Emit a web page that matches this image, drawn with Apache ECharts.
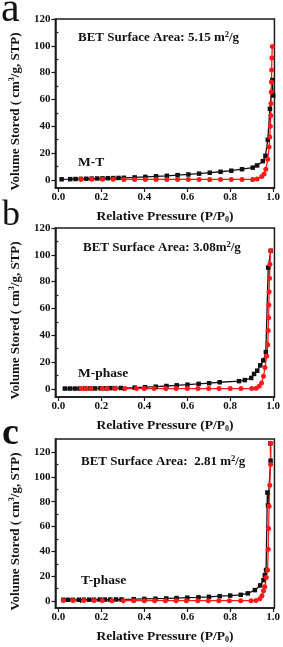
<!DOCTYPE html>
<html><head><meta charset="utf-8">
<script src="https://cdn.jsdelivr.net/npm/echarts@6/dist/echarts.min.js"></script>
<style>html,body{margin:0;padding:0;background:#fff}#c{width:283px;height:647px}</style>
</head><body><div id="c"></div>
<script>
// ---- data (P/P0, volume) ----
const aBlackP = [0.015,0.055,0.08,0.105,0.13,0.155,0.18,0.205,0.23,0.255,0.28,0.305,0.355,0.405,0.455,0.505,0.555,0.605,0.655,0.705,0.755,0.805,0.855,0.905,0.925,0.952,0.964,0.975,0.985,0.996,1.0];
const aBlackV = [0.5,0.6,0.7,0.8,0.9,1.0,1.1,1.2,1.3,1.4,1.5,1.6,1.9,2.3,2.7,3.1,3.6,4.1,4.7,5.4,6.1,6.9,8.0,9.2,10.8,14,18,30,53,74.5,63];
const aRedP = [0.105,0.155,0.205,0.255,0.305,0.355,0.405,0.455,0.505,0.555,0.605,0.655,0.705,0.755,0.805,0.855,0.905,0.925,0.947,0.958,0.966,0.975,0.981,0.984,0.987,0.989,0.990,0.991,0.992,0.993,0.994,0.996];
const aRedV = [0.5,0.5,0.5,0.5,0.4,0.4,0.4,0.4,0.4,0.4,0.4,0.4,0.4,0.4,0.4,0.4,0.4,0.8,2.5,4.5,8,15.5,24.5,32,40,48,57,65.5,73,82,91,99.5];

const bBlackP = [0.03,0.053,0.076,0.098,0.125,0.148,0.171,0.196,0.219,0.242,0.264,0.291,0.355,0.403,0.453,0.503,0.551,0.601,0.653,0.702,0.751,0.841,0.868,0.898,0.911,0.926,0.94,0.954,0.966,0.977,0.989];
const bBlackV = [0.3,0.3,0.3,0.3,0.4,0.4,0.4,0.5,0.5,0.6,0.6,0.7,1.0,1.3,1.7,2.2,2.7,3.2,3.8,4.3,5.0,5.8,6.6,8.2,11.2,13.6,17.6,21.3,27.5,90.5,103];
const bRedP = [0.106,0.128,0.151,0.204,0.227,0.264,0.31,0.363,0.4,0.446,0.5,0.548,0.6,0.65,0.7,0.748,0.8,0.85,0.9,0.921,0.935,0.946,0.955,0.962,0.97,0.975,0.977,0.979,0.98,0.981,0.983,0.985,0.988];
const bRedV = [0.3,0.3,0.3,0.3,0.3,0.3,0.3,0.3,0.3,0.3,0.3,0.3,0.3,0.3,0.3,0.3,0.3,0.3,0.3,0.5,2,4.5,9.5,16,24.5,33,43.5,53,62.5,72.5,82.5,93,103];

const cBlackP = [0.023,0.045,0.068,0.095,0.118,0.143,0.166,0.193,0.216,0.241,0.268,0.294,0.351,0.4,0.452,0.502,0.55,0.6,0.652,0.701,0.751,0.8,0.849,0.882,0.915,0.94,0.955,0.961,0.967,0.973,0.976,0.988,0.987];
const cBlackV = [1.0,1.0,1.0,1.0,1.1,1.1,1.1,1.2,1.2,1.2,1.3,1.3,1.5,1.7,1.9,2.1,2.4,2.7,3.0,3.4,3.9,4.4,5.0,6.2,8.8,12.6,16.9,20.9,25,87.4,77,113,127];
const cRedP = [0.023,0.068,0.118,0.166,0.204,0.249,0.302,0.351,0.4,0.448,0.498,0.548,0.596,0.649,0.698,0.747,0.796,0.849,0.897,0.92,0.938,0.948,0.955,0.961,0.968,0.974,0.977,0.979,0.981,0.984,0.988,0.989];
const cRedV = [0.5,0.4,0.4,0.4,0.4,0.3,0.3,0.3,0.3,0.3,0.3,0.3,0.3,0.3,0.3,0.3,0.3,0.3,0.3,0.5,1.8,4.3,8.3,11.5,19,25,41.8,58.4,76.4,93.2,110,127];

const xTicks = [0,0.2,0.4,0.6,0.8,1.0];
const xMinor = [0.1,0.3,0.5,0.7,0.9];
const yTicksAB = [0,20,40,60,80,100,120];
const yTicksC = [0,20,40,60,80,100,120];
const yMinor = [10,30,50,70,90,110];

const panelLetters = ['a','b','c'];
const betTexts = ['BET Surface Area: 5.15 m{sup|2}/g','BET Surface Area: 3.08m{sup|2}/g','BET Surface Area:  2.81 m{sup|2}/g'];
const sampleNames = ['M-T','M-phase','T-phase'];
const xTitle = 'Relative Pressure (P/P{sub|0})';
const yTitle = 'Volume Stored ( cm{sup|3}/g, STP)';

// ---- layout ----
const F = 'Liberation Serif';
const grids = [
  {left:50, top:19, width:225, height:169},
  {left:50, top:228, width:225, height:169},
  {left:50, top:439, width:225, height:169}
];
const yRanges = [[-6,120],[-6,120],[-5.6,130.5]];
const xRange = [-0.014,1.006];
const AX = '#1a1a1a';
const zip = (p,v) => p.map((x,i)=>[x,v[i]]);
const richT = {
  sup:{fontSize:8, fontFamily:F, fontWeight:'bold', verticalAlign:'top', lineHeight:15, color:'#111'},
  sub:{fontSize:8, fontFamily:F, fontWeight:'bold', verticalAlign:'bottom', lineHeight:15, color:'#111'}
};

const xAxes=[], yAxes=[], series=[], titles=[], graphics=[];
[0,1,2].forEach(i=>{
  xAxes.push({gridIndex:i,type:'value',position:'bottom',min:xRange[0],max:xRange[1],
    axisLine:{show:true,onZero:false,lineStyle:{color:AX,width:1.5}},
    axisTick:{show:true,customValues:xTicks,length:4,lineStyle:{color:AX,width:1.2}},
    axisLabel:{customValues:xTicks,formatter:v=>v.toFixed(1),margin:4,fontFamily:F,fontWeight:'bold',fontSize:11,color:'#111'},
    splitLine:{show:false},
    name:xTitle,nameLocation:'middle',nameGap:21,
    nameTextStyle:{fontFamily:F,fontWeight:'bold',fontSize:13.5,color:'#111',lineHeight:15,rich:richT}});
  xAxes.push({gridIndex:i,type:'value',position:'bottom',min:xRange[0],max:xRange[1],
    axisLine:{show:false},axisLabel:{show:false},splitLine:{show:false},
    axisTick:{show:true,customValues:xMinor,length:2,lineStyle:{color:AX,width:1.2}}});
  const yt = i===2?yTicksC:yTicksAB;
  yAxes.push({gridIndex:i,type:'value',position:'left',min:yRanges[i][0],max:yRanges[i][1],
    axisLine:{show:true,onZero:false,lineStyle:{color:AX,width:1.5}},
    axisTick:{show:true,customValues:yt,length:4,lineStyle:{color:AX,width:1.2}},
    axisLabel:{customValues:yt,margin:5,fontFamily:F,fontWeight:'bold',fontSize:11,color:'#111'},
    splitLine:{show:false},
    name:yTitle,nameLocation:'middle',nameGap:23,
    nameTextStyle:{fontFamily:F,fontWeight:'bold',fontSize:13,color:'#111',lineHeight:15,rich:richT,padding:[0,0,0,-16]}});
  yAxes.push({gridIndex:i,type:'value',position:'left',min:yRanges[i][0],max:yRanges[i][1],
    axisLine:{show:false},axisLabel:{show:false},splitLine:{show:false},
    axisTick:{show:true,customValues:yMinor,length:2,lineStyle:{color:AX,width:1.2}}});
});

const sets = [[aBlackP,aBlackV,aRedP,aRedV],[bBlackP,bBlackV,bRedP,bRedV],[cBlackP,cBlackV,cRedP,cRedV]];
sets.forEach((s,i)=>{
  series.push({type:'line',xAxisIndex:2*i,yAxisIndex:2*i,data:zip(s[0],s[1]),symbol:'rect',symbolSize:4.5,
    lineStyle:{color:'#111',width:1.3},itemStyle:{color:'#111'},animation:false});
  series.push({type:'line',xAxisIndex:2*i,yAxisIndex:2*i,data:zip(s[2],s[3]),symbol:'circle',symbolSize:5,
    lineStyle:{color:'#ff1a1a',width:1.3},itemStyle:{color:'#ff1a1a'},animation:false});
});

const betPos = [[78,30],[83,240],[81,454]];
const namePos = [[78,155],[78,366],[81,573]];
const richBig = {
  sup:{fontSize:8.5, fontFamily:F, fontWeight:'bold', verticalAlign:'top', lineHeight:16, color:'#111'}
};
[0,1,2].forEach(i=>{
  titles.push({text:betTexts[i],left:betPos[i][0],top:betPos[i][1],padding:0,
    textStyle:{fontFamily:F,fontWeight:'bold',fontSize:13,color:'#111',lineHeight:16,rich:richBig}});
  titles.push({text:sampleNames[i],left:namePos[i][0],top:namePos[i][1],padding:0,
    textStyle:{fontFamily:F,fontWeight:'bold',fontSize:13.5,color:'#111',lineHeight:16}});
});
const letterPos = [[1,10,'normal',42],[2,216,'normal',36],[2,434,'bold',38]];
letterPos.forEach((p,i)=>{
  graphics.push({type:'text',x:p[0],y:p[1],style:{text:panelLetters[i],font:p[2]+' '+p[3]+'px "'+F+'"',fill:'#111',verticalAlign:'middle',align:'left'}});
});

const chart = echarts.init(document.getElementById('c'),null,{renderer:'canvas'});
chart.setOption({
  animation:false,
  backgroundColor:'#fff',
  grid:grids.map(g=>Object.assign({show:true,borderColor:AX,borderWidth:1.5,backgroundColor:'transparent'},g)),
  xAxis:xAxes, yAxis:yAxes, series:series, title:titles, graphic:graphics
});
</script></body></html>
